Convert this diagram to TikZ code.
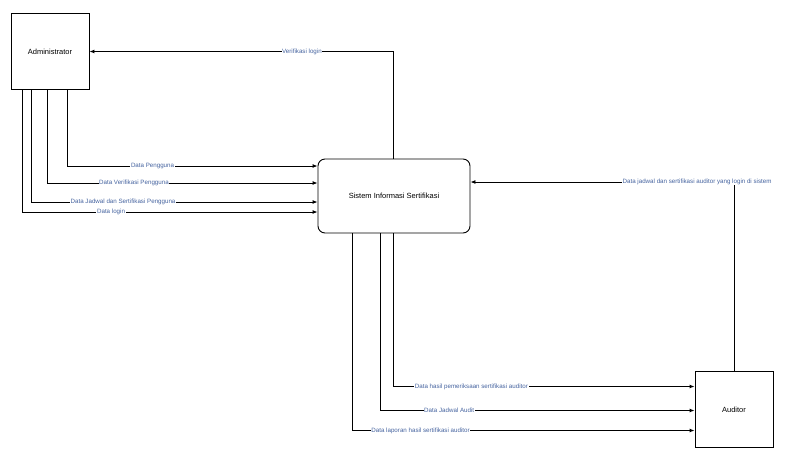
\documentclass[tikz,border=0pt]{standalone}
\usepackage{fontspec}
\setmainfont{Liberation Sans}
\usetikzlibrary{arrows.meta}
\definecolor{ketbiru}{RGB}{70,100,160}
\tikzset{
  entitas/.style={draw, line width=0.9pt, minimum width=78pt, minimum height=76pt, font=\fontsize{7.5}{9}\selectfont},
  proses/.style={draw, line width=0.9pt, rounded corners=7pt, minimum width=152pt, minimum height=74pt, font=\fontsize{7.5}{9}\selectfont},
  alur/.style={line width=0.9pt, -{Latex[length=5pt,width=4pt]}},
  ket/.style={fill=white, inner sep=0.6pt, text=ketbiru, font=\fontsize{6.2}{7}\selectfont}
}
\begin{document}
\begin{tikzpicture}[x=1pt, y=-1pt]
  \useasboundingbox (0,0) rectangle (788,448);
  \node[entitas] (admin) at (50,51.5) {Administrator};
  \node[proses] (sis) at (394,196) {Sistem Informasi Sertifikasi};
  \node[entitas] (auditor) at (734,409.5) {Auditor};

  \draw[alur] ([xshift=-1pt]sis.north) |- (admin.east)
    node[ket, pos=0.65] {Verifikasi login};

  \draw[alur] ([xshift=57pt]admin.south west) |- ([yshift=30pt]sis.west)
    node[ket, pos=0.67] {Data Pengguna};
  \draw[alur] ([xshift=37pt]admin.south west) |- ([yshift=13pt]sis.west)
    node[ket, pos=0.66] {Data Verifikasi Pengguna};
  \draw[alur] ([xshift=21pt]admin.south west) |- ([yshift=-6pt]sis.west)
    node[ket, pos=0.66] {Data Jadwal dan Sertifikasi Pengguna};
  \draw[alur] ([xshift=12pt]admin.south west) |- ([yshift=-16pt]sis.west)
    node[ket, pos=0.65] {Data login};

  \draw[alur] (auditor.north) |- ([yshift=14pt]sis.east)
    node[ket, pos=0.57] {Data jadwal dan sertifikasi auditor yang login di sistem};

  \draw[alur] ([xshift=-1pt]sis.south) |- ([yshift=23pt]auditor.west)
    node[ket, pos=0.63] {Data hasil pemeriksaan sertifikasi auditor};
  \draw[alur] ([xshift=-14pt]sis.south) |- ([yshift=-1pt]auditor.west)
    node[ket, pos=0.61] {Data Jadwal Audit};
  \draw[alur] ([xshift=-42pt]sis.south) |- ([yshift=-21pt]auditor.west)
    node[ket, pos=0.6] {Data laporan hasil sertifikasi auditor};
\end{tikzpicture}
\end{document}
